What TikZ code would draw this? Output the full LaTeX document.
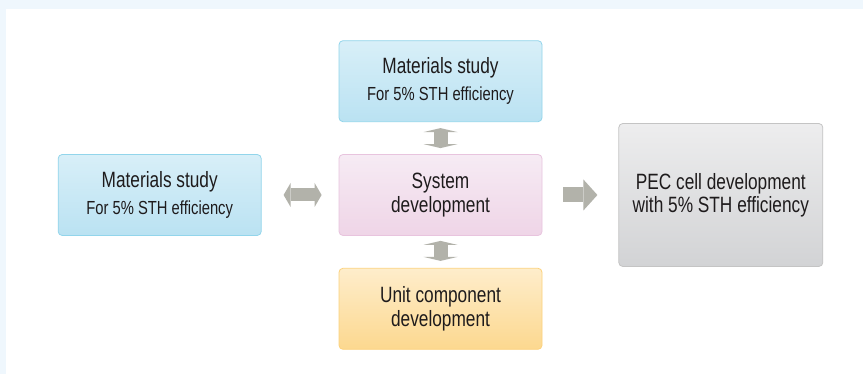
\documentclass[tikz,border=0pt]{standalone}
\usepackage{fontspec}
\setmainfont{Liberation Sans}[FakeStretch=0.78]
\usetikzlibrary{positioning,arrows.meta}

\definecolor{frameblue}{RGB}{239,247,253}
\definecolor{blueline}{RGB}{146,213,235}
\definecolor{bluetop}{RGB}{216,239,248}
\definecolor{bluebot}{RGB}{186,226,242}
\definecolor{pinkline}{RGB}{232,196,222}
\definecolor{pinktop}{RGB}{246,235,244}
\definecolor{pinkbot}{RGB}{239,213,231}
\definecolor{orangeline}{RGB}{252,210,125}
\definecolor{orangetop}{RGB}{254,237,203}
\definecolor{orangebot}{RGB}{252,216,143}
\definecolor{greyline}{RGB}{196,196,196}
\definecolor{greytop}{RGB}{237,237,238}
\definecolor{greybot}{RGB}{210,211,213}
\definecolor{arrowgrey}{RGB}{178,178,170}
\definecolor{textgrey}{RGB}{30,27,28}

\tikzset{
	box/.style={rounded corners=3pt, line width=0.6pt, inner sep=0pt, align=center, text=textgrey,
		minimum width=152.25pt, minimum height=60.75pt, font=\fontsize{16.6}{18.2}\selectfont},
	bluebox/.style={box, draw=blueline, top color=bluetop, bottom color=bluebot, font=\fontsize{16.6}{20.2}\selectfont},
	pinkbox/.style={box, draw=pinkline, top color=pinktop, bottom color=pinkbot},
	orangebox/.style={box, draw=orangeline, top color=orangetop, bottom color=orangebot},
	greybox/.style={box, draw=greyline, top color=greytop, bottom color=greybot,
		minimum width=153pt, minimum height=107.25pt, font=\fontsize{16.6}{17}\selectfont},
	fatboth/.style={arrowgrey, line width=9.75pt,
		{Triangle[width=18pt,length=5.25pt,line width=0pt]}-{Triangle[width=18pt,length=5.25pt,line width=0pt]}},
	fatup/.style={arrowgrey, line width=10.5pt,
		{Triangle[width=25.5pt,length=3pt,line width=0pt]}-{Triangle[width=25.5pt,length=3pt,line width=0pt]}},
	fatright/.style={arrowgrey, line width=11.25pt, -{Triangle[width=23.25pt,length=10.5pt,line width=0pt]}}
}

\begin{document}
\begin{tikzpicture}[x=0.75pt, y=0.75pt]
			%%%%% START %%%%%
			
			\useasboundingbox (0, 0) rectangle (863, 374);
			\fill[white] (0, 0) rectangle (863, 374);
			\fill[frameblue] (0, 365) rectangle (863, 374);
			\fill[frameblue] (0, 0) rectangle (6, 374);
			
			\node[pinkbox] (sys) at (440.5, 179) {System\\development};
			\node[bluebox, above=24pt of sys] (study) {Materials study\\{\fontsize{14.2}{20.2}\selectfont For 5\% STH efficiency}};
			\node[bluebox, left=57.75pt of sys] (side) {Materials study\\{\fontsize{14.2}{20.2}\selectfont For 5\% STH efficiency}};
			\node[orangebox, below=24pt of sys] (unit) {Unit component\\development};
			\node[greybox, right=57pt of sys] (pec) {PEC cell development\\with 5\% STH efficiency};
			
			\draw[fatboth, shorten <=16.5pt, shorten >=12.75pt] (side.east) -- (sys.west);
			\draw[fatup, shorten <=4.5pt, shorten >=4.5pt] (study.south) -- (sys.north);
			\draw[fatup, shorten <=3.75pt, shorten >=5.25pt] (sys.south) -- (unit.north);
			\draw[fatright, shorten <=15.75pt, shorten >=15.75pt] (sys.east) -- (pec.west);
			
			%%%%% END %%%%%
\end{tikzpicture}
\end{document}
